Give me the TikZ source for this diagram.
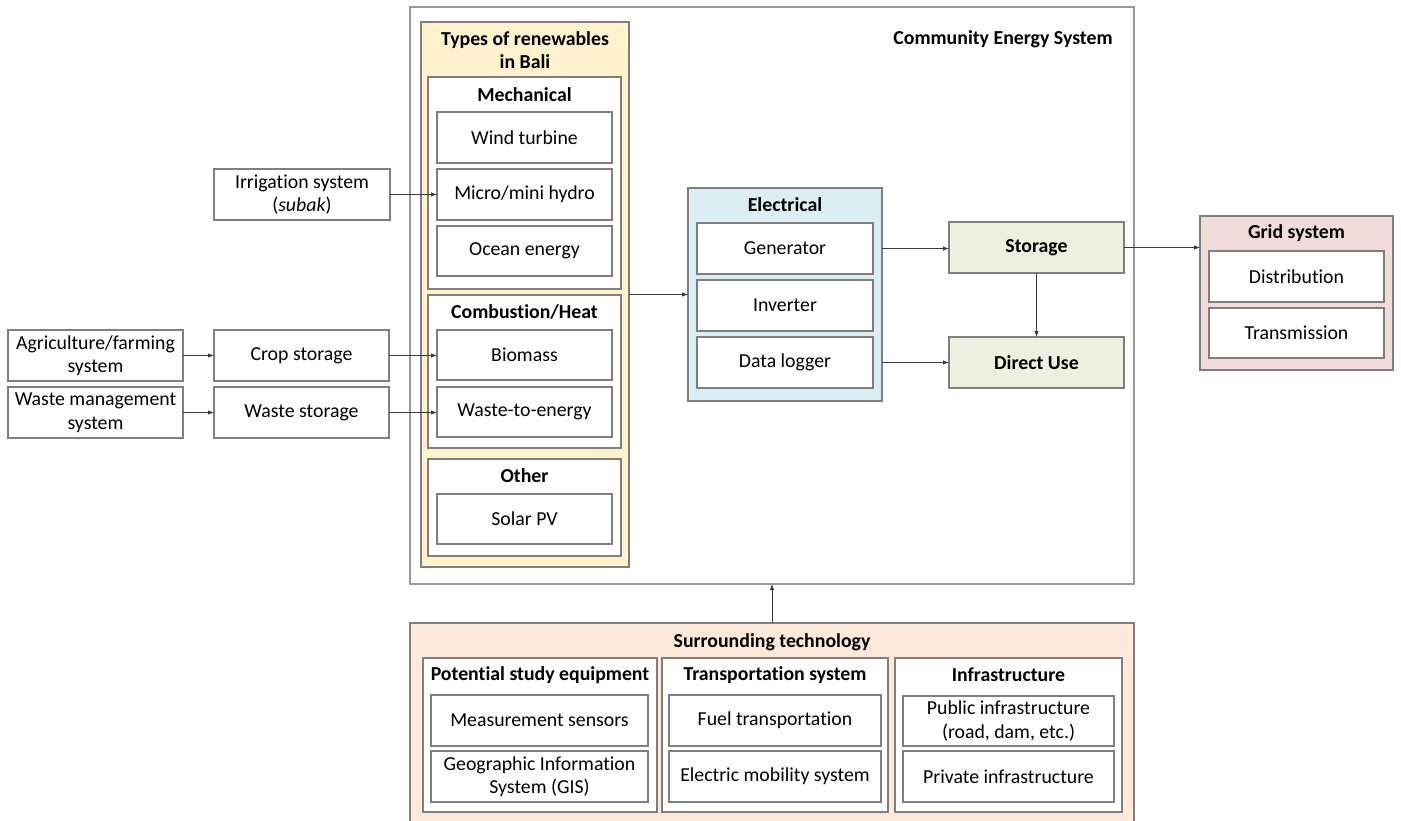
\documentclass[tikz,border=0pt]{standalone}
\usepackage{fontspec}
\setmainfont{Carlito}[Ligatures=NoCommon]
\usetikzlibrary{arrows.meta}
\definecolor{bordc}{HTML}{7F7F7F}
\definecolor{linec}{HTML}{3A3A3A}
\definecolor{yelf}{HTML}{FFF2CC}
\definecolor{bluf}{HTML}{DBEEF3}
\definecolor{grnf}{HTML}{EBF1DE}
\definecolor{pnkf}{HTML}{F2DCDB}
\definecolor{pchf}{HTML}{FDE9D9}
\newcommand{\bxn}[7]{\node[#6, minimum width={(#4)-(#2)}, minimum height={(#5)-(#3)}] (#1) at ({((#2)+(#4))/2},{((#3)+(#5))/2}) {#7};}
\tikzset{
  base/.style={draw=bordc, line width=1.1pt, inner sep=0pt, outer sep=0pt, rectangle, align=center, font=\fontsize{19.8}{23.5}\selectfont},
  wbox/.style={base, fill=white},
  ybox/.style={base, fill=yelf},
  bbox/.style={base, fill=bluf},
  gbox/.style={base, fill=grnf, font=\fontsize{19.8}{23.5}\selectfont\bfseries},
  pbox/.style={base, fill=pnkf},
  cbox/.style={base, fill=pchf},
  obox/.style={base, fill=white, draw=bordc!80},
  ttl/.style={inner sep=0pt, align=center, font=\fontsize{19.8}{23.5}\selectfont\bfseries},
  arr/.style={draw=linec, line width=0.9pt, -{Latex[length=6pt,width=4.5pt]}},
}
\begin{document}
\begin{tikzpicture}[x=1pt,y=-1pt]
\useasboundingbox (0,0) rectangle (1401,821);
\clip (0,0) rectangle (1401,821);
% Community energy system
\bxn{ces}{410}{7}{1134}{584}{obox}{}
\node[ttl] (cestitle) at (1003,39) {Community Energy System};
% Types of renewables
\bxn{types}{421}{22}{629}{567}{ybox}{}
\node[ttl] (typestitle) at (525,50) {Types of renewables\\in Bali};
\bxn{mech}{428}{77}{621}{289}{wbox}{}
\node[ttl] (mechtitle) at (524.5,95) {Mechanical};
\bxn{wind}{437}{112}{612}{163}{wbox}{Wind turbine}
\bxn{micro}{437}{169}{612}{220}{wbox}{Micro/mini hydro}
\bxn{ocean}{437}{226}{612}{276}{wbox}{Ocean energy}
\bxn{comb}{428}{295}{621}{448}{wbox}{}
\node[ttl] (combtitle) at (524.5,312) {Combustion/Heat};
\bxn{biomass}{437}{330}{612}{380}{wbox}{Biomass}
\bxn{wte}{437}{387}{612}{437}{wbox}{Waste-to-energy}
\bxn{other}{428}{459}{621}{556}{wbox}{}
\node[ttl] (othertitle) at (524.5,476) {Other};
\bxn{solar}{437}{494}{612}{544}{wbox}{Solar PV}
% Electrical
\bxn{elec}{688}{188}{882}{401}{bbox}{}
\node[ttl] (electitle) at (785,205) {Electrical};
\bxn{gen}{697}{223}{873}{274}{wbox}{Generator}
\bxn{inv}{697}{280}{873}{331}{wbox}{Inverter}
\bxn{dlog}{697}{337}{873}{388}{wbox}{Data logger}
% Storage / Direct use
\bxn{stor}{949}{222}{1124}{273}{gbox}{Storage}
\bxn{direct}{949}{337}{1124}{388}{gbox}{Direct Use}
% Grid system
\bxn{grid}{1200}{216}{1393}{370}{pbox}{}
\node[ttl] (gridtitle) at (1296.5,233) {Grid system};
\bxn{dist}{1209}{251}{1384}{302}{wbox}{Distribution}
\bxn{trans}{1209}{308}{1384}{358}{wbox}{Transmission}
% Left side
\bxn{irr}{214}{169}{390}{220}{wbox}{Irrigation system\\(\textit{subak})}
\bxn{agri}{8}{330}{183}{381}{wbox}{Agriculture/farming\\system}
\bxn{crop}{214}{330}{389}{381}{wbox}{Crop storage}
\bxn{wman}{8}{387}{183}{438}{wbox}{Waste management\\system}
\bxn{wstor}{214}{387}{389}{438}{wbox}{Waste storage}
% Surrounding technology
\bxn{surr}{410}{623}{1134}{830}{cbox}{}
\node[ttl] (surrtitle) at (772,642) {Surrounding technology};
\bxn{pse}{423}{658}{657}{812}{wbox}{}
\node[ttl] (psetitle) at (540,675) {Potential study equipment};
\bxn{meas}{431}{695}{648}{746}{wbox}{Measurement sensors}
\bxn{gis}{431}{751}{648}{802}{wbox}{Geographic Information\\System (GIS)}
\bxn{tsys}{662}{658}{888}{812}{wbox}{}
\node[ttl] (tsystitle) at (775,675) {Transportation system};
\bxn{fuel}{669}{695}{881}{746}{wbox}{Fuel transportation}
\bxn{emob}{669}{751}{881}{802}{wbox}{Electric mobility system}
\bxn{infra}{895}{658}{1122}{812}{wbox}{}
\node[ttl] (infratitle) at (1008.5,675) {Infrastructure};
\bxn{pub}{903}{696}{1114}{746}{wbox}{Public infrastructure\\(road, dam, etc.)}
\bxn{priv}{903}{751}{1114}{802}{wbox}{Private infrastructure}
% Connectors
\draw[arr] (irr.east) -- (irr.east -| micro.west);
\draw[arr] (agri.east) -- (crop.west);
\draw[arr] (crop.east) -- (crop.east -| biomass.west);
\draw[arr] (wman.east) -- (wstor.west);
\draw[arr] (wstor.east) -- (wstor.east -| wte.west);
\draw[arr] (types.east) -- (elec.west);
\draw[arr] (gen.east -| elec.east) -- (gen.east -| stor.west);
\draw[arr] (dlog.east -| elec.east) -- (dlog.east -| direct.west);
\draw[arr] (stor.south) -- (direct.north);
\draw[arr] (stor.east) -- (stor.east -| grid.west);
\draw[arr] (surr.north) -- (ces.south);
\end{tikzpicture}
\end{document}
